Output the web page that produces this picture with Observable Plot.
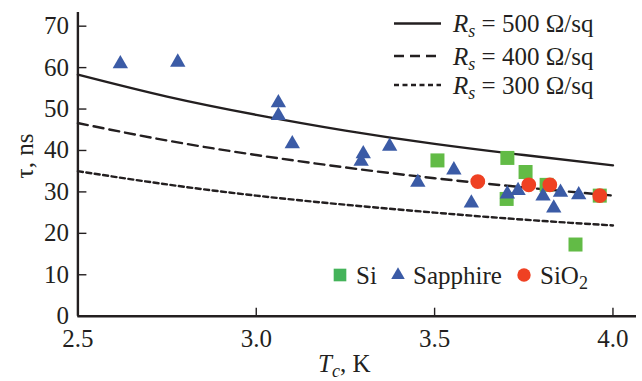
<!DOCTYPE html>
<html>
<head>
<meta charset="utf-8">
<script src="https://cdn.jsdelivr.net/npm/d3@7"></script>
<script src="https://cdn.jsdelivr.net/npm/@observablehq/plot@0.6"></script>
<style>
  html, body { margin: 0; padding: 0; background: #fff; }
  #chart svg { display: block; }
  #chart svg text { font-family: "Liberation Serif", "Times New Roman", Times, "DejaVu Serif", serif !important; }
</style>
</head>
<body>
<div id="chart"></div>
<script>
// Measured points (Tc in K, tau in ns)
const sapphireTc  = [2.619, 2.780, 3.062, 3.062, 3.101, 3.300, 3.294, 3.374, 3.453, 3.554, 3.603, 3.704, 3.734, 3.804, 3.853, 3.834, 3.904];
const sapphireTau = [60.9, 61.3, 51.5, 48.4, 41.6, 39.2, 37.4, 41.0, 32.3, 35.3, 27.3, 29.5, 30.3, 29.0, 29.9, 26.1, 29.3];
const siTc  = [3.508, 3.704, 3.755, 3.814, 3.702, 3.963, 3.895];
const siTau = [37.6, 38.2, 34.8, 31.7, 28.3, 29.1, 17.3];
const sio2Tc  = [3.621, 3.764, 3.823, 3.963];
const sio2Tau = [32.5, 31.7, 31.7, 29.1];

// Model curves
const curveTc = [2.5, 2.75, 3.0, 3.25, 3.5, 3.75, 4.0];
const tau500 = [58.3, 53.0, 48.6, 44.8, 41.6, 38.9, 36.4];
const tau400 = [46.6, 42.4, 38.9, 35.9, 33.3, 31.1, 29.1];
const tau300 = [35.0, 31.8, 29.1, 26.9, 25.0, 23.3, 21.9];

const xTicks = [2.5, 3.0, 3.5, 4.0];
const yTicks = [0, 10, 20, 30, 40, 50, 60, 70];

const curves = [
  {label: "500", values: tau500, dash: null},
  {label: "400", values: tau400, dash: "10,6"},
  {label: "300", values: tau300, dash: "5,3.5"}
];
const series = [
  {name: "Si", tc: siTc, tau: siTau, symbol: "square", color: "#62bb46", r: 7.9},
  {name: "Sapphire", tc: sapphireTc, tau: sapphireTau, symbol: "triangle", color: "#3b5ba6", r: 5.7},
  {name: "SiO2", tc: sio2Tc, tau: sio2Tau, symbol: "circle", color: "#ef4123", r: 7.4}
];

const font = "'Liberation Serif', 'Times New Roman', 'DejaVu Serif', serif";
const ink = "#231f20";

const marks = [];
for (const c of curves) {
  const rows = curveTc.map((t, i) => ({tc: t, tau: c.values[i]}));
  marks.push(Plot.line(rows, {x: "tc", y: "tau", curve: "natural", stroke: ink, strokeWidth: 2.4, strokeDasharray: c.dash}));
}
for (const s of series) {
  const rows = s.tc.map((t, i) => ({tc: t, tau: s.tau[i]}));
  marks.push(Plot.dot(rows, {x: "tc", y: "tau", symbol: () => s.symbol, fill: s.color, r: s.r, stroke: "none"}));
}
marks.push(
  Plot.axisX({ticks: xTicks, tickFormat: d3.format(".1f"), tickSize: -8, tickPadding: 21, fontSize: 25, fontFamily: font, stroke: ink, fill: ink, strokeWidth: 1.4, label: null}),
  Plot.axisY({ticks: yTicks, tickFormat: d => String(d), tickSize: -9, tickPadding: 18, fontSize: 25, fontFamily: font, stroke: ink, fill: ink, strokeWidth: 1.4, label: null}),
  Plot.ruleY([0], {stroke: ink, strokeWidth: 2.4}),
  Plot.ruleX([2.5], {stroke: ink, strokeWidth: 2.4})
);

const plot = Plot.plot({
  width: 642,
  height: 381,
  marginLeft: 77.4,
  marginRight: 6,
  marginTop: 12,
  marginBottom: 65.3,
  style: {fontFamily: font, color: ink, background: "#fff"},
  x: {domain: [2.5, 4.066]},
  y: {domain: [0, 73.3]},
  symbol: {type: "identity"},
  marks
});
document.getElementById("chart").appendChild(plot);

// Overlays: axis titles and legends
const svg = d3.select(plot);
const g = svg.append("g").attr("font-family", font).attr("fill", ink).attr("font-size", 25).attr("text-anchor", "start");

// y title
g.append("text").attr("transform", "translate(33,156) rotate(-90)").attr("text-anchor", "middle").text("τ, ns");
// x title
const xt = g.append("text").attr("x", 318).attr("y", 372);
xt.append("tspan").attr("font-style", "italic").text("T");
xt.append("tspan").attr("font-style", "italic").attr("font-size", 18).attr("dy", 5).text("c");
xt.append("tspan").attr("dy", -5).text(", K");

// Top-right legend
const rowsY = [23.5, 56, 85];
curves.forEach((c, i) => {
  g.append("line").attr("x1", 394).attr("x2", 441).attr("y1", rowsY[i]).attr("y2", rowsY[i])
    .attr("stroke", ink).attr("stroke-width", 2.4).attr("stroke-dasharray", c.dash);
  const t = g.append("text").attr("x", 453).attr("y", rowsY[i] + 8.5);
  t.append("tspan").attr("font-style", "italic").text("R");
  t.append("tspan").attr("font-style", "italic").attr("font-size", 18).attr("dy", 5).text("s");
  t.append("tspan").attr("dy", -5).text(" = " + c.label + " Ω/sq");
});

// Bottom legend
const ly = 275;
const symMap = {square: d3.symbolSquare, triangle: d3.symbolTriangle, circle: d3.symbolCircle};
const legendX = [340, 398, 524];
const legendTextX = [356, 413, 540];
const legendSize = [160, 80, 140];
series.forEach((s, i) => {
  g.append("path").attr("d", d3.symbol(symMap[s.symbol], legendSize[i])())
    .attr("transform", `translate(${legendX[i]},${ly})`).attr("fill", i === 0 ? "#44b35a" : s.color);
  const t = g.append("text").attr("x", legendTextX[i]).attr("y", ly + 9);
  if (s.name === "SiO2") {
    t.append("tspan").text("SiO");
    t.append("tspan").attr("font-size", 18).attr("dy", 5).text("2");
  } else {
    t.text(s.name);
  }
});
</script>
</body>
</html>
